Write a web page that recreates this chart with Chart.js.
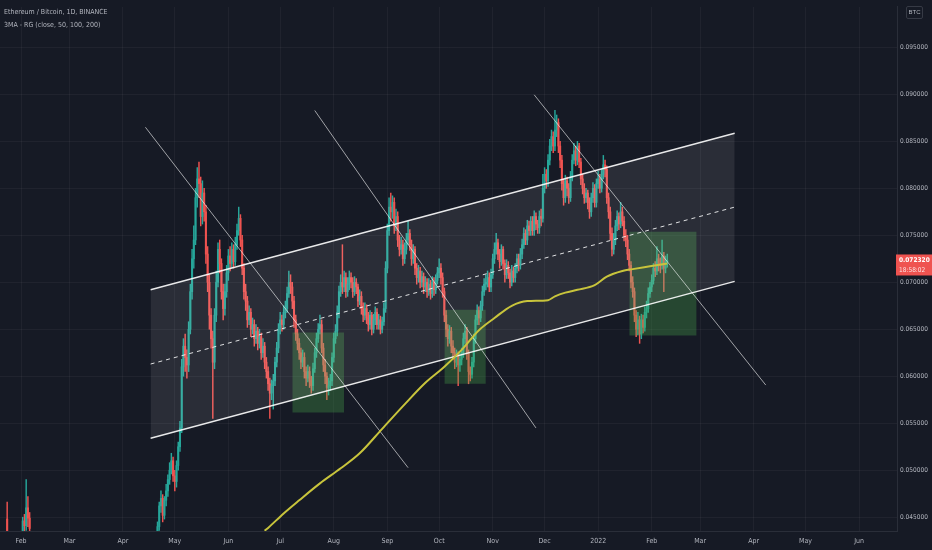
<!DOCTYPE html>
<html>
<head>
<meta charset="utf-8">
<script src="https://cdn.jsdelivr.net/npm/chart.js@4/dist/chart.umd.min.js"></script>
<style>
  html, body { margin: 0; padding: 0; background: #161a25; }
  #wrap { position: relative; width: 932px; height: 550px; overflow: hidden; }
  #canvas { position: absolute; left: 0; top: 0; }
  .info { position: absolute; left: 4px; color: #b2b5be; font: 7px "Liberation Sans Narrow", "DejaVu Sans Condensed", sans-serif; white-space: nowrap; }
  #unit { position: absolute; left: 906px; top: 6px; width: 15px; height: 11px; border: 1px solid #363a45; border-radius: 2px;
          color: #b2b5be; font: 6px "Liberation Sans Narrow", sans-serif; line-height: 11px; text-align: center; }
</style>
</head>
<body>
<div id="wrap">
  <canvas id="canvas" width="932" height="550"></canvas>
  <div class="info" style="top:8px">Ethereum / Bitcoin, 1D, BINANCE</div>
  <div class="info" style="top:21px">3MA - RG (close, 50, 100, 200)</div>
  <div id="unit">BTC</div>
</div>
<script>
//------------- DATA (prices in units of 0.0001 BTC) -------------
var UNIT = 0.0001;

// first candles of 2021, only the tops reach the visible range
var earlyDates = ['2021-01-24','2021-02-02','2021-02-03','2021-02-04','2021-02-05','2021-02-06'];
var earlyOpen  = [448, 425, 446, 441, 460, 449];
var earlyHigh  = [466, 450, 453, 490, 472, 455];
var earlyLow   = [422, 420, 432, 436, 440, 430];
var earlyClose = [428, 446, 441, 460, 449, 438];

// daily candles from 2021-04-20 to 2022-02-10 (open = previous close)
var candleStart = '2021-04-20';
var firstOpen = 415;
var closes = [
  428,440,462,470,452,468,478,490,500,510,
  494,488,505,525,545,610,632,620,612,650,
  690,725,745,790,810,805,770,795,775,730,
  700,665,640,615,665,700,735,720,690,672,
  690,710,728,720,735,722,740,755,768,745,
  715,690,680,660,668,650,655,640,648,635,
  642,625,632,615,605,592,582,590,595,615,
  630,650,660,655,668,672,688,700,695,680,
  660,645,635,625,615,620,605,598,605,595,
  590,608,625,640,650,655,630,612,600,588,
  590,595,620,640,648,668,690,700,695,705,
  690,698,705,700,690,700,695,680,685,672,
  665,672,662,655,665,650,660,668,655,660,
  650,658,672,715,755,780,775,785,760,770,
  745,735,740,725,735,745,752,740,725,735,
  715,705,712,700,706,695,700,690,698,688,
  700,692,702,710,715,705,690,665,650,640,
  648,632,625,615,622,612,618,625,640,648,
  625,605,602,615,640,660,670,662,675,690,
  698,700,705,695,708,725,735,742,730,722,
  735,720,708,718,710,700,712,705,715,725,
  718,730,740,752,745,760,755,765,755,770,
  762,758,770,768,800,815,808,830,845,855,
  845,862,870,845,830,805,790,808,800,790,
  812,830,840,830,845,828,810,800,790,795,
  785,775,790,800,785,805,810,800,815,825,
  820,790,775,752,735,745,760,770,762,775,
  765,750,745,730,718,700,690,665,650,660,
  645,660,652,668,672,688,695,702,715,712,
  725,720,718,728,715,722,723.2
];
var highs = [
  432,445,466,478,474,472,485,495,508,518,
  514,500,510,530,552,618,640,645,628,658,
  698,735,760,800,822,828,812,808,800,782,
  738,708,672,648,672,712,742,745,725,698,
  698,718,735,738,742,740,748,762,780,772,
  750,720,698,685,675,672,662,660,655,652,
  650,646,640,636,620,610,598,596,602,620,
  636,656,668,665,675,680,695,712,708,700,
  685,665,650,640,630,628,625,610,612,610,
  600,614,630,646,656,665,660,635,618,604,
  598,602,625,646,655,675,696,708,740,712,
  710,705,712,710,705,706,704,698,692,690,
  678,678,676,668,670,668,666,674,672,666,
  664,663,678,722,762,790,795,792,790,778,
  775,750,748,745,742,752,765,756,745,740,
  738,720,718,716,712,710,706,704,704,702,
  706,705,708,716,725,720,710,694,670,655,
  654,652,638,630,628,626,624,630,646,655,
  652,628,610,620,645,665,676,674,680,696,
  704,708,712,710,714,730,742,752,746,735,
  740,738,724,724,722,714,718,716,720,730,
  730,736,746,758,756,766,765,770,770,776,
  774,766,776,778,815,822,820,836,852,862,
  860,883,878,874,850,835,810,814,812,805,
  818,836,848,845,850,848,832,815,805,800,
  798,790,795,806,804,810,818,815,820,835,
  830,824,795,780,758,752,766,776,774,785,
  780,770,756,750,735,722,706,694,670,668,
  664,666,665,674,680,694,700,708,720,722,
  738,730,726,745,732,728,730
];
var lows = [
  405,424,436,455,445,448,462,472,485,496,
  488,478,482,500,520,540,600,605,598,605,
  645,682,715,740,780,790,760,762,765,720,
  690,650,630,555,608,658,695,710,682,660,
  665,684,702,712,715,715,718,735,750,738,
  708,682,670,652,655,642,645,632,635,628,
  630,618,620,608,598,585,555,575,565,590,
  610,625,645,648,650,662,668,684,688,672,
  652,638,628,618,608,610,598,590,594,588,
  582,585,604,620,636,645,625,605,592,575,
  580,585,590,615,635,643,662,685,688,690,
  684,685,692,694,684,686,688,674,676,666,
  658,660,656,648,650,644,646,655,650,650,
  645,646,654,668,710,750,765,768,752,755,
  738,728,730,718,720,730,740,734,718,720,
  708,698,700,694,695,688,690,684,686,682,
  684,686,688,698,705,698,684,658,642,632,
  635,625,618,608,610,590,605,612,620,635,
  618,592,595,598,610,635,655,655,658,670,
  686,692,695,690,690,704,720,730,724,715,
  718,714,700,704,704,694,696,700,700,710,
  712,714,725,736,740,740,750,750,750,750,
  756,752,752,760,764,795,800,802,825,840,
  838,840,855,838,822,798,782,785,792,784,
  786,808,826,824,825,822,804,794,784,785,
  778,768,770,785,780,780,800,795,796,810,
  812,784,768,745,728,730,740,755,756,758,
  760,744,738,724,712,694,684,658,642,644,
  635,640,646,648,662,668,684,690,698,706,
  708,712,710,714,690,710,716
];

// 200 day moving average
var maDates  = ['2021-06-22','2021-06-24','2021-07-03','2021-07-12','2021-07-24','2021-08-05','2021-08-16',
                '2021-08-29','2021-09-11','2021-09-23','2021-10-04','2021-10-14','2021-10-24','2021-11-02',
                '2021-11-12','2021-11-21','2021-12-03','2021-12-07','2021-12-13','2021-12-20','2021-12-30',
                '2022-01-06','2022-01-15','2022-01-21','2022-01-31','2022-02-10'];
var maValues = [435.5,438.6,454,468,486,502,518,544,570,593,610,628,649,662,675,680,681,685,689,692,697,706,712,714,717,720];

// drawings
var channelDates = ['2021-04-17','2022-03-21'];
var channelUpper = [692, 858.6];
var channelMid   = [613, 780];
var channelLower = [534, 701];

var trendLines = [
  {dates:['2021-04-14','2021-09-13'], values:[865, 502.7]},
  {dates:['2021-07-21','2021-11-26'], values:[882.8, 545]},
  {dates:['2021-11-25','2022-04-08'], values:[899.5, 590.6]}
];
var boxes = [
  {dates:['2021-07-08','2021-08-07'], values:[561.5, 646.5]},
  {dates:['2021-10-04','2021-10-28'], values:[592, 670.7]},
  {dates:['2022-01-19','2022-02-27'], values:[643.4, 753.7]}
];

var monthStarts = ['2021-02-01','2021-03-01','2021-04-01','2021-05-01','2021-06-01','2021-07-01','2021-08-01',
                   '2021-09-01','2021-10-01','2021-11-01','2021-12-01','2022-01-01','2022-02-01','2022-03-01',
                   '2022-04-01','2022-05-01','2022-06-01'];
var monthLabels = ['Feb','Mar','Apr','May','Jun','Jul','Aug','Sep','Oct','Nov','Dec','2022','Feb','Mar','Apr','May','Jun'];
var yTicks = [0.045,0.050,0.055,0.060,0.065,0.070,0.075,0.080,0.085,0.090,0.095];
var lastPrice = 0.072320;
var countdown = '18:58:02';
//-----------------------------------------------------------------

var UP = '#26a69a', DOWN = '#ef5350';
var FONT = '"Liberation Sans Narrow", "DejaVu Sans Condensed", sans-serif';
var DAY0 = Date.UTC(2021, 1, 1);
function dayOf(s) {
  var p = s.split('-').map(Number);
  return (Date.UTC(p[0], p[1] - 1, p[2]) - DAY0) / 86400000;
}

var candles = [];
for (var i = 0; i < earlyDates.length; i++) {
  candles.push({x: dayOf(earlyDates[i]), o: earlyOpen[i], h: earlyHigh[i], l: earlyLow[i], c: earlyClose[i]});
}
var d0 = dayOf(candleStart);
for (var i = 0; i < closes.length; i++) {
  candles.push({x: d0 + i, o: i ? closes[i - 1] : firstOpen, h: highs[i], l: lows[i], c: closes[i]});
}
var candleColors = candles.map(function (k) { return k.c >= k.o ? UP : DOWN; });

function pts(dates, values) {
  return dates.map(function (d, i) { return {x: dayOf(d), y: values[i] * UNIT}; });
}
function lineSet(data, color, width, order, extra) {
  var s = {type: 'line', data: data, borderColor: color, borderWidth: width, pointRadius: 0,
           tension: 0, fill: false, order: order};
  for (var k in extra) s[k] = extra[k];
  return s;
}

var datasets = [];
datasets.push({type: 'bar', grouped: false, order: 20, barThickness: 0.8,
  data: candles.map(function (k) { return {x: k.x, y: [k.l * UNIT, k.h * UNIT]}; }),
  backgroundColor: candleColors});
datasets.push({type: 'bar', grouped: false, order: 19, barThickness: 1.4,
  data: candles.map(function (k) { return {x: k.x, y: [k.o * UNIT, k.c * UNIT]}; }),
  backgroundColor: candleColors});

// channel: upper line filled down to lower line
datasets.push(lineSet(pts(channelDates, channelUpper), 'rgba(255,255,255,0.9)', 1.4, 5,
  {fill: '+2', backgroundColor: 'rgba(255,255,255,0.085)'}));
datasets.push(lineSet(pts(channelDates, channelMid), 'rgba(255,255,255,0.85)', 1, 4, {borderDash: [4, 4]}));
datasets.push(lineSet(pts(channelDates, channelLower), 'rgba(255,255,255,0.9)', 1.4, 4));

boxes.forEach(function (b) {
  datasets.push(lineSet(pts(b.dates, [b.values[1], b.values[1]]), 'rgba(0,0,0,0)', 0, 8,
    {fill: '+1', backgroundColor: 'rgba(76,175,80,0.3)'}));
  datasets.push(lineSet(pts(b.dates, [b.values[0], b.values[0]]), 'rgba(0,0,0,0)', 0, 8));
});

trendLines.forEach(function (t) {
  datasets.push(lineSet(pts(t.dates, t.values), 'rgba(255,255,255,0.75)', 0.8, 3));
});

datasets.push(lineSet(pts(maDates, maValues), '#c8c43c', 2, 2, {cubicInterpolationMode: 'monotone'}));

var priceLabel = {
  id: 'priceLabel',
  afterDraw: function (chart) {
    var ctx = chart.ctx, y = chart.scales.y.getPixelForValue(lastPrice);
    var left = chart.chartArea.right - 1;
    ctx.save();
    ctx.fillStyle = DOWN;
    ctx.fillRect(left, y - 6, 932 - left, 21);
    ctx.fillStyle = '#ffffff';
    ctx.textBaseline = 'middle';
    ctx.font = 'bold 6.5px ' + FONT;
    ctx.fillText(lastPrice.toFixed(6), left + 3, y);
    ctx.fillStyle = '#fde3e3';
    ctx.font = '6.5px ' + FONT;
    ctx.fillText(countdown, left + 3, y + 10);
    ctx.restore();
  }
};

Chart.defaults.font.family = FONT;
Chart.defaults.font.size = 6.5;
Chart.defaults.color = '#b2b5be';

var chart = new Chart(document.getElementById('canvas').getContext('2d'), {
  type: 'bar',
  data: {datasets: datasets},
  options: {
    responsive: false,
    animation: false,
    layout: {padding: 0},
    plugins: {legend: {display: false}, tooltip: {enabled: false}},
    scales: {
      x: {
        type: 'linear', offset: false,
        min: -21 / 1.728, max: (897 - 21) / 1.728,
        afterBuildTicks: function (scale) { scale.ticks = monthStarts.map(function (d) { return {value: dayOf(d)}; }); },
        afterFit: function (scale) { scale.height = 19; },
        ticks: {autoSkip: false, maxRotation: 0, padding: 6, font: {size: 7},
                callback: function (v, i) { return monthLabels[i]; }},
        grid: {color: 'rgba(255,255,255,0.045)', drawTicks: false, offset: false},
        border: {color: '#2a2e39'}
      },
      y: {
        type: 'linear', position: 'right',
        min: 0.04353, max: 0.099307,
        afterBuildTicks: function (scale) { scale.ticks = yTicks.map(function (v) { return {value: v}; }); },
        afterFit: function (scale) { scale.width = 35; },
        ticks: {padding: 3, callback: function (v) { return v.toFixed(6); }},
        grid: {color: 'rgba(255,255,255,0.045)', drawTicks: false},
        border: {color: '#2a2e39'}
      }
    }
  },
  plugins: [priceLabel]
});
</script>
</body>
</html>
